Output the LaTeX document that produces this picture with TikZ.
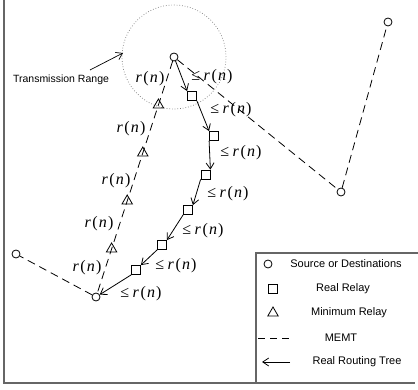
\documentclass[tikz,border=0pt]{standalone}
\usepackage{fontspec}
\setmainfont{Liberation Serif}
\newfontfamily\arialf{Liberation Sans}
\usetikzlibrary{arrows.meta,shapes.geometric,calc}
\newcommand\myrn{\textit{r}\kern1.5pt(\kern1.2pt\textit{n}\kern1.2pt)}
\newcommand\mylern{≤\kern3.5pt\myrn}
\begin{document}
\begin{tikzpicture}[x=1pt,y=-1pt,
  dot/.style={circle,draw,line width=0.8pt,minimum size=8pt,inner sep=0pt},
  relay/.style={rectangle,draw,line width=0.8pt,minimum size=9pt,inner sep=0pt},
  minrelay/.style={regular polygon,regular polygon sides=3,draw,line width=0.8pt,minimum size=12pt,inner sep=0pt},
  memt/.style={line width=0.8pt,dash pattern=on 8pt off 5pt},
  tree/.style={line width=0.8pt,-{Straight Barb[length=6pt,width=8pt]}},
  lab/.style={font=\fontsize{16}{17}\selectfont,inner sep=0pt},
  leg/.style={font=\arialf\fontsize{11}{12}\selectfont,inner sep=0pt},
  frame/.style={line width=1.5pt,draw=black!60}
]
\path[use as bounding box] (0,0) rectangle (418,390);
% frame and legend box
\draw[frame] (4,0) -- (4,383) -- (415,383);
\draw[frame] (256,383) -- (256,253) -- (418,253);

% terminals
\node[dot] (src) at (174,57) {};
\node[dot] (tr) at (388,22) {};
\node[dot] (rm) at (341,192) {};
\node[dot] (lc) at (16,254) {};
\node[dot] (dst) at (96,297) {};

% transmission range
\draw[dotted, black!55, line width=0.7pt] (src) circle[radius=52pt];

% MEMT
\draw[memt] (src) -- (rm);
\draw[memt] (rm) -- (tr);
\draw[memt] (src) -- (dst);
\draw[memt] (dst) -- (lc);

% minimum relays
\foreach \f/\n in {0.2/t1,0.4/t2,0.6/t3,0.8/t4}
  \node[minrelay] (\n) at ($(src)!\f!(dst)$) {};

% real relays
\node[relay] (q1) at (192,96) {};
\node[relay] (q2) at (214,136) {};
\node[relay] (q3) at (205.5,174.5) {};
\node[relay] (q4) at (188,210) {};
\node[relay] (q5) at (162,245) {};
\node[relay] (q6) at (136,270) {};

% real routing tree
\draw[tree] (src) -- (q1.north west);
\draw[tree] (q1.south east) -- (q2.north west);
\draw[tree] (q2.south west) -- (q3.north east);
\draw[tree] (q3.south west) -- (q4.north east);
\draw[tree] (q4.south west) -- (q5.north east);
\draw[tree] (q5.south west) -- (q6.north east);
\draw[tree] (q6.south west) -- (dst);

% labels on MEMT
\node[lab] (l1) at (150,79) {\myrn};
\node[lab] (l2) at (131,129) {\myrn};
\node[lab] (l3) at (116,181) {\myrn};
\node[lab] (l4) at (99,224) {\myrn};
\node[lab] (l5) at (87,268) {\myrn};

% labels on real tree
\node[lab] (m1) at (212,77) {\mylern};
\node[lab] (m2) at (231,110) {\mylern};
\node[lab] (m3) at (241,153) {\mylern};
\node[lab] (m4) at (228,194) {\mylern};
\node[lab] (m5) at (203,231) {\mylern};
\node[lab] (m6) at (176,266) {\mylern};
\node[lab] (m7) at (141,294) {\mylern};

% transmission range label
\node[leg,font=\arialf\fontsize{10.5}{12}\selectfont] (trl) at (61,80) {Transmission Range};
\coordinate (trs) at (90,70);
\coordinate (tre) at (123,53);
\draw[tree,line width=0.7pt] (trs) -- (tre);

% legend
\node[dot] (lg1) at (268,264) {};
\node[leg] (lt1) at (346,264) {Source or Destinations};
\node[relay] (lg2) at (273,289) {};
\node[leg] (lt2) at (343,289) {Real Relay};
\node[minrelay] (lg3) at (273,313) {};
\node[leg] (lt3) at (349,313) {Minimum Relay};
\coordinate (lg4a) at (258,338);
\coordinate (lg4b) at (292,338);
\draw[line width=0.8pt,dash pattern=on 7pt off 5pt] (lg4a) -- (lg4b);
\node[leg] (lt4) at (341,338) {MEMT};
\coordinate (lg5a) at (290,362);
\coordinate (lg5b) at (262,362);
\draw[tree] (lg5a) -- (lg5b);
\node[leg] (lt5) at (357,362) {Real Routing Tree};
\end{tikzpicture}
\end{document}
